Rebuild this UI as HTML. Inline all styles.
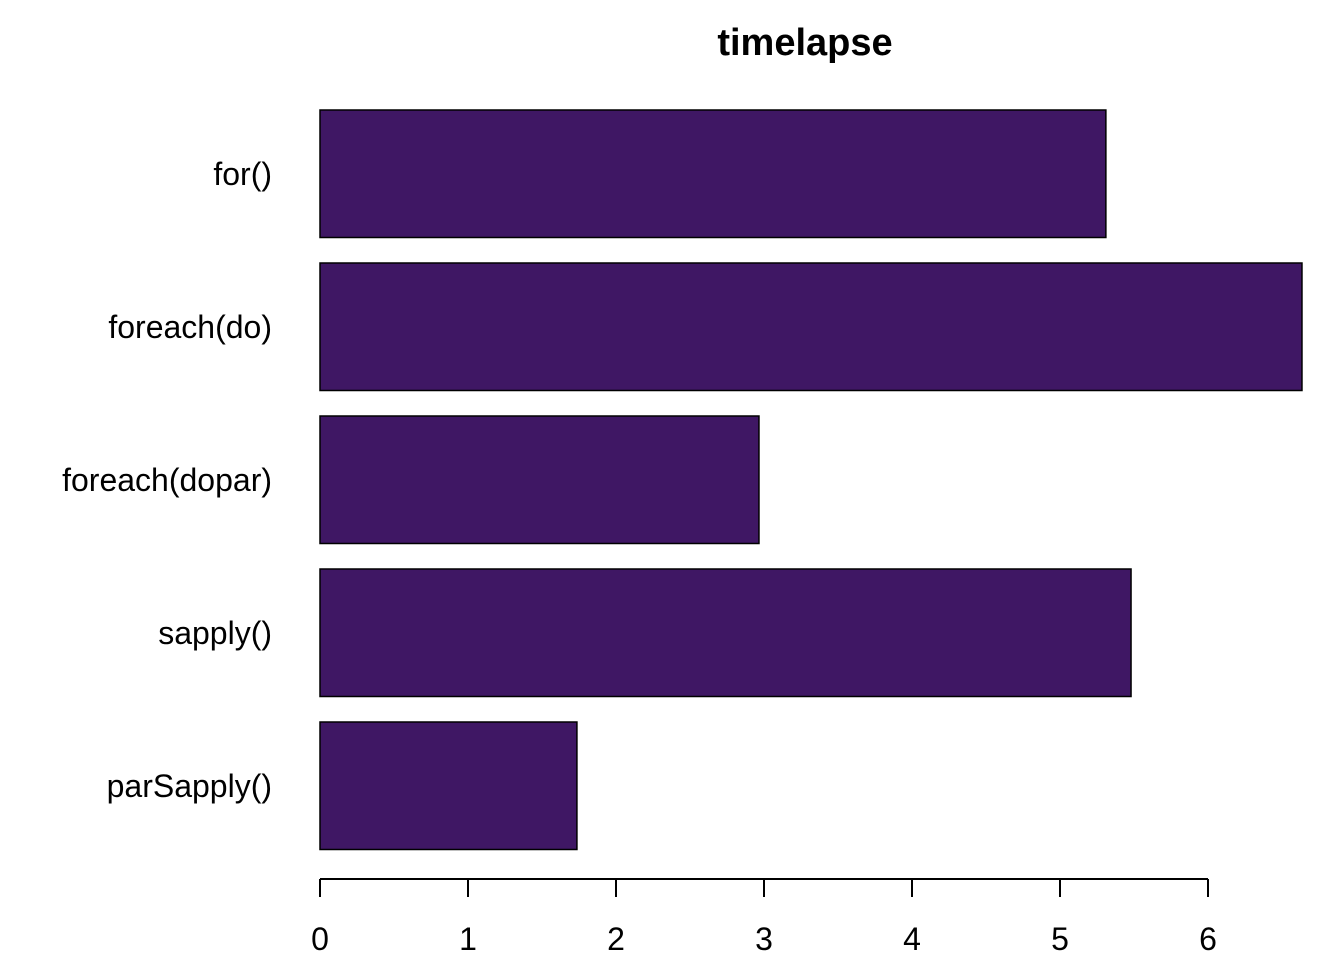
<!DOCTYPE html>
<html><head><meta charset="utf-8"><style>
html,body{margin:0;padding:0;background:#fff;}
svg text{font-family:"Liberation Sans",Arial,sans-serif;}
</style></head><body>
<svg id="chart" width="1344" height="960" viewBox="0 0 1344 960" xmlns="http://www.w3.org/2000/svg">
<text x="805" y="55" text-anchor="middle" font-size="38" font-weight="bold">timelapse</text>
<g id="bars"></g>
<g id="yLabels"></g>
<g id="xAxis"></g>
</svg>
<script>
const categories = ["for()", "foreach(do)", "foreach(dopar)", "sapply()", "parSapply()"];
const values = [5.31, 6.635, 2.966, 5.48, 1.736];
const ticks = [0, 1, 2, 3, 4, 5, 6];

const NS = "http://www.w3.org/2000/svg";
const x0 = 320, pxPerUnit = 148;
const xs = v => x0 + v * pxPerUnit;
const top0 = 110, pitch = 153.0, bh = 127.5;
const ys = i => top0 + i * pitch;

const bars = document.getElementById('bars');
const yl = document.getElementById('yLabels');
categories.forEach((c, i) => {
  const r = document.createElementNS(NS, 'rect');
  r.setAttribute('x', xs(0)); r.setAttribute('y', ys(i));
  r.setAttribute('width', xs(values[i]) - xs(0)); r.setAttribute('height', bh);
  r.setAttribute('fill', '#3F1764'); r.setAttribute('stroke', '#000'); r.setAttribute('stroke-width', '1.5');
  
  
  bars.appendChild(r);
  const t = document.createElementNS(NS, 'text');
  t.setAttribute('x', 272); t.setAttribute('y', ys(i) + bh / 2 + 11);
  t.setAttribute('text-anchor', 'end'); t.setAttribute('font-size', '32');
  t.textContent = c;
  
  
  yl.appendChild(t);
});

const xa = document.getElementById('xAxis');
const line = document.createElementNS(NS, 'line');
line.setAttribute('x1', xs(ticks[0])); line.setAttribute('x2', xs(ticks[ticks.length - 1]));
line.setAttribute('y1', 879); line.setAttribute('y2', 879);
line.setAttribute('stroke', '#000'); line.setAttribute('stroke-width', '2');


xa.appendChild(line);
ticks.forEach(v => {
  const l = document.createElementNS(NS, 'line');
  l.setAttribute('x1', xs(v)); l.setAttribute('x2', xs(v));
  l.setAttribute('y1', 879); l.setAttribute('y2', 897);
  l.setAttribute('stroke', '#000'); l.setAttribute('stroke-width', '2');
  
  
  xa.appendChild(l);
  const t = document.createElementNS(NS, 'text');
  t.setAttribute('x', xs(v)); t.setAttribute('y', 950);
  t.setAttribute('text-anchor', 'middle'); t.setAttribute('font-size', '32');
  t.textContent = v;
  
  
  xa.appendChild(t);
});
</script>
</body></html>
